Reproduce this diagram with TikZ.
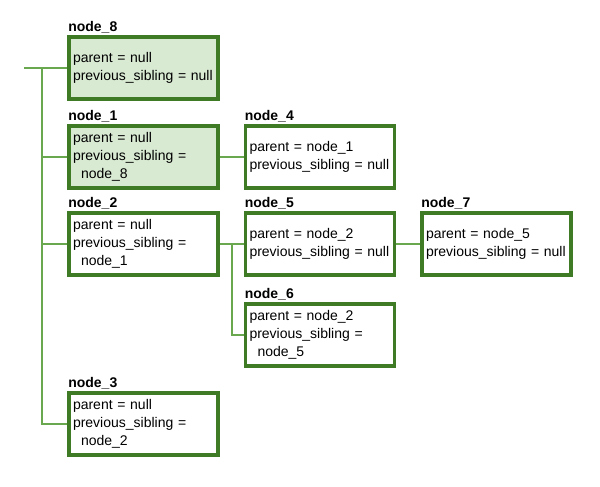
\documentclass[tikz,border=0pt]{standalone}
\usepackage{fontspec}
\setmainfont{Liberation Sans}
\usetikzlibrary{calc}
\definecolor{darkgreen}{HTML}{3F7A24}
\definecolor{linkgreen}{HTML}{6AA84F}
\definecolor{lightgreen}{HTML}{D9EAD3}

\begin{document}
\begin{tikzpicture}[x=1pt, y=-1pt,
    box/.style={draw=darkgreen, line width=3.8pt, rectangle, inner xsep=4pt, inner ysep=0pt,
        minimum height=62pt, text width=141pt, align=left, font=\fontsize{14}{18}\selectfont},
    done/.style={box, fill=lightgreen},
    tag/.style={anchor=south west, inner sep=0pt, xshift=1pt, yshift=2pt,
        font=\fontsize{14}{17}\selectfont\bfseries},
    link/.style={linkgreen, line width=2.4pt}]
        \useasboundingbox (0,0) rectangle (600,487);

        % left column
        \node[done, label={[tag]north west:node\_8}] (n8) at (143.5,68) {parent = null\\previous\_sibling = null};
        \node[done, label={[tag]north west:node\_1}] (n1) at (143.5,157) {parent = null\\previous\_sibling =\\\hspace*{8pt}node\_8};
        \node[box, label={[tag]north west:node\_2}] (n2) at (143.5,244) {parent = null\\previous\_sibling =\\\hspace*{8pt}node\_1};
        \node[box, label={[tag]north west:node\_3}] (n3) at (143.5,424) {parent = null\\previous\_sibling =\\\hspace*{8pt}node\_2};

        % children
        \node[box, label={[tag]north west:node\_4}] (n4) at (320,157) {parent = node\_1\\previous\_sibling = null};
        \node[box, label={[tag]north west:node\_5}] (n5) at (320,244) {parent = node\_2\\previous\_sibling = null};
        \node[box, label={[tag]north west:node\_6}] (n6) at (320,335) {parent = node\_2\\previous\_sibling =\\\hspace*{8pt}node\_5};
        \node[box, label={[tag]north west:node\_7}] (n7) at (496.5,244) {parent = node\_5\\previous\_sibling = null};

        % connectors
        \coordinate (root) at (24,68);
        \coordinate (trunk) at (42,68);
        \draw[link] (root) -- (n8.west);
        \draw[link] (trunk) |- (n1.west);
        \draw[link] (trunk) |- (n2.west);
        \draw[link] (trunk) |- (n3.west);
        \draw[link] (n1.east) -- (n4.west);
        \draw[link] (n2.east) -- (n5.west);
        \draw[link] (n5.east) -- (n7.west);
        \coordinate (fork) at ($(n2.east)!0.5!(n5.west)$);
        \draw[link] (fork) |- (n6.west);
\end{tikzpicture}
\end{document}
